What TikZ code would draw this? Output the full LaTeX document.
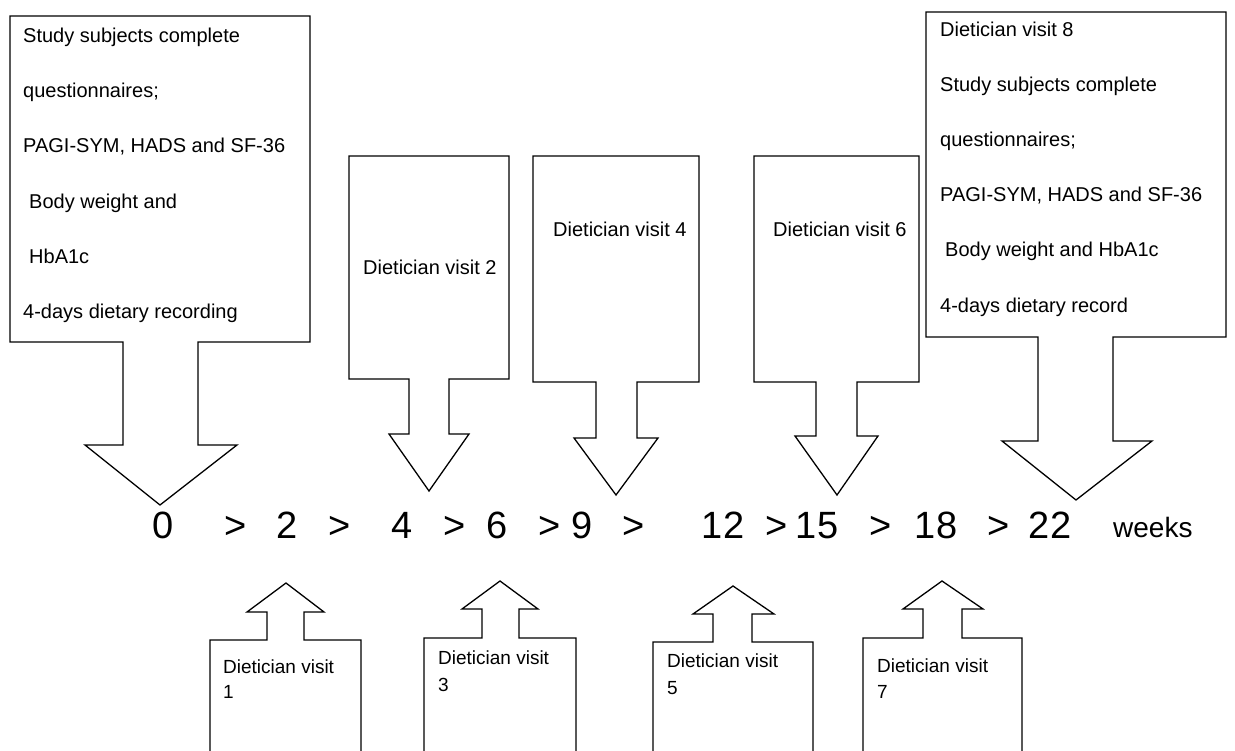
\documentclass[tikz,border=0pt]{standalone}
\usepackage{fontspec}
\setmainfont{Liberation Sans}
\begin{document}
\begin{tikzpicture}[x=1pt,y=-1pt,
  shapeline/.style={draw=black,line width=1.3pt,line join=miter,fill=white},
  lbl/.style={anchor=base west,inner sep=0pt,font=\fontsize{20}{24}\selectfont},
  slbl/.style={anchor=base west,inner sep=0pt,font=\fontsize{19}{23}\selectfont},
  tl/.style={anchor=base,inner sep=0pt,font=\fontsize{38}{44}\selectfont}]
\useasboundingbox (0,0) rectangle (1235,751);
\clip (0,0) rectangle (1235,751);
% downward arrows
\draw[shapeline] (10,16) -- (310,16) -- (310,342) -- (198,342) -- (198,445) -- (237,445) -- (160,505) -- (85,445) -- (123,445) -- (123,342) -- (10,342) -- cycle;
\draw[shapeline] (349,156) -- (509,156) -- (509,379) -- (449,379) -- (449,434) -- (469,434) -- (429,491) -- (389,434) -- (409,434) -- (409,379) -- (349,379) -- cycle;
\draw[shapeline] (533,156) -- (699,156) -- (699,382) -- (637,382) -- (637,438) -- (658,438) -- (616,495) -- (574,438) -- (596,438) -- (596,382) -- (533,382) -- cycle;
\draw[shapeline] (754,156) -- (919,156) -- (919,382) -- (857,382) -- (857,436) -- (878,436) -- (837,495) -- (795,436) -- (816,436) -- (816,382) -- (754,382) -- cycle;
\draw[shapeline] (926,12) -- (1226,12) -- (1226,337) -- (1113,337) -- (1113,441) -- (1152,441) -- (1076,500) -- (1002,441) -- (1038,441) -- (1038,337) -- (926,337) -- cycle;
% upward arrows
\draw[shapeline] (210,800) -- (210,640) -- (267,640) -- (267,612) -- (247,612) -- (286,583) -- (324,612) -- (304,612) -- (304,640) -- (361,640) -- (361,800);
\draw[shapeline] (424,800) -- (424,638) -- (482,638) -- (482,609) -- (462,609) -- (500,581) -- (538,609) -- (519,609) -- (519,638) -- (576,638) -- (576,800);
\draw[shapeline] (653,800) -- (653,642) -- (713,642) -- (713,614) -- (693,614) -- (733,586) -- (774,614) -- (752,614) -- (752,642) -- (813,642) -- (813,800);
\draw[shapeline] (863,800) -- (863,638) -- (923,638) -- (923,609) -- (903,609) -- (942,581) -- (983,609) -- (962,609) -- (962,638) -- (1022,638) -- (1022,800);
% left box text
\node[lbl] (a1) at (23,43) {Study subjects complete};
\node[lbl] (a2) at (23,98) {questionnaires;};
\node[lbl] (a3) at (23,153) {PAGI-SYM, HADS and SF-36};
\node[lbl] (a4) at (29,209) {Body weight and};
\node[lbl] (a5) at (29,264) {HbA1c};
\node[lbl] (a6) at (23,319) {4-days dietary recording};
% right box text
\node[lbl] (b1) at (940,37) {Dietician visit 8};
\node[lbl] (b2) at (940,92) {Study subjects complete};
\node[lbl] (b3) at (940,147) {questionnaires;};
\node[lbl] (b4) at (940,202) {PAGI-SYM, HADS and SF-36};
\node[lbl] (b5) at (945,257) {Body weight and HbA1c};
\node[lbl] (b6) at (940,313) {4-days dietary record};
% top visits
\node[lbl] (v2) at (363,275) {Dietician visit 2};
\node[lbl] (v4) at (553,237) {Dietician visit 4};
\node[lbl] (v6) at (773,237) {Dietician visit 6};
% bottom visits
\node[slbl] (v1a) at (223,673) {Dietician visit};
\node[slbl] (v1b) at (223,698) {1};
\node[slbl] (v3a) at (438,664) {Dietician visit};
\node[slbl] (v3b) at (438,691) {3};
\node[slbl] (v5a) at (667,667) {Dietician visit};
\node[slbl] (v5b) at (667,694) {5};
\node[slbl] (v7a) at (877,672) {Dietician visit};
\node[slbl] (v7b) at (877,698) {7};
% timeline
\node[tl] (t0) at (163,538) {0};
\node[tl] (g1) at (236,538) {>};
\node[tl] (t2) at (287,538) {2};
\node[tl] (g2) at (340,538) {>};
\node[tl] (t4) at (402,538) {4};
\node[tl] (g3) at (455,538) {>};
\node[tl] (t6) at (497,538) {6};
\node[tl] (g4) at (550,538) {>};
\node[tl] (t9) at (582,538) {9};
\node[tl] (g5) at (634,538) {>};
\node[tl] (t12) at (723,538) {12};
\node[tl] (g6) at (777,538) {>};
\node[tl] (t15) at (817,538) {15};
\node[tl] (g7) at (881,538) {>};
\node[tl] (t18) at (936,538) {18};
\node[tl] (g8) at (999,538) {>};
\node[tl] (t22) at (1050,538) {22};
\node[anchor=base west,inner sep=0pt,font=\fontsize{28}{32}\selectfont] (wk) at (1113,537) {weeks};
\end{tikzpicture}
\end{document}
